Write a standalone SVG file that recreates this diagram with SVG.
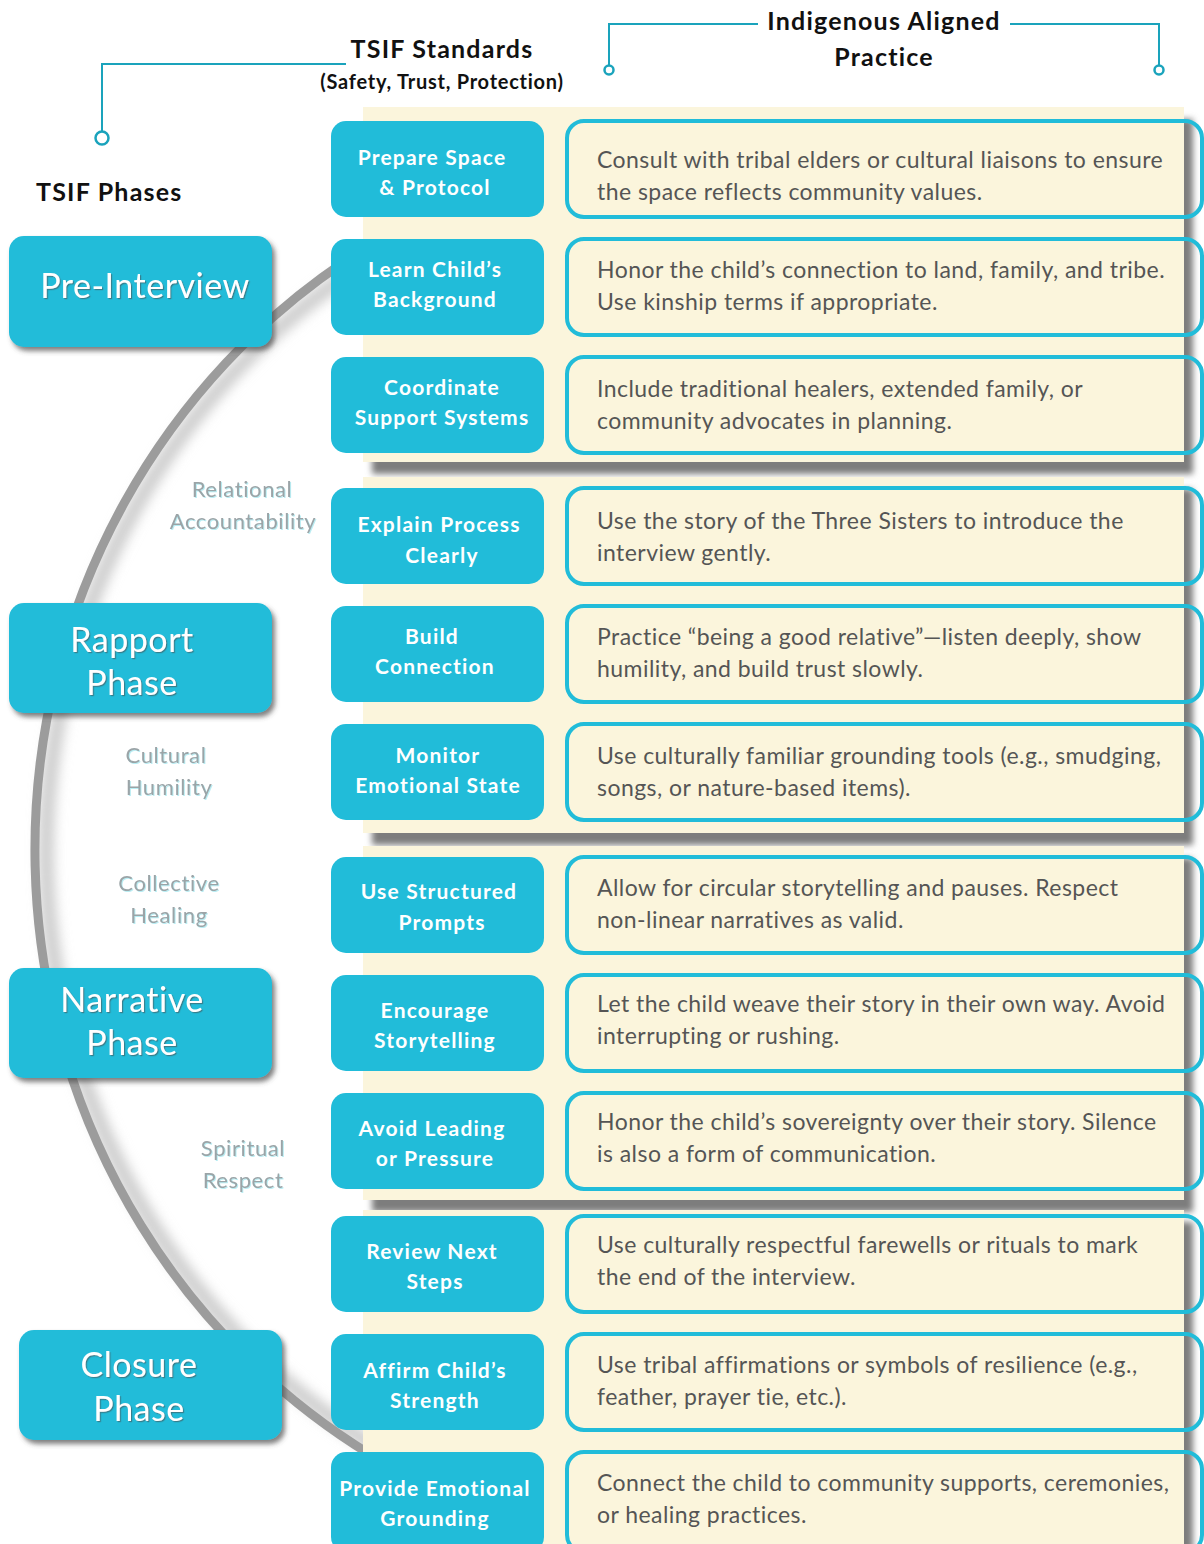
<svg xmlns="http://www.w3.org/2000/svg" width="1204" height="1544" viewBox="0 0 1204 1544">
  <style>
    .hdr { font-family: Lato, "Liberation Sans", sans-serif; font-weight: 700; fill: #111; }
    .lead { fill: none; stroke: #1aa3bc; stroke-width: 2; }
    .dot { fill: #fff; stroke: #1aa3bc; stroke-width: 2.5; }
    .panel { fill: #fbf5dc; }
    .std { fill: #21bcd9; }
    .prac { fill: none; stroke: #21bcd9; stroke-width: 4; }
    .stdtxt { font-family: Lato, "Liberation Sans", sans-serif; font-weight: 700; font-size: 21px; letter-spacing: 1.2px; fill: #fff; text-anchor: middle; }
    .prtxt { font-family: Lato, "Liberation Sans", sans-serif; font-size: 23px; letter-spacing: 0.45px; fill: #555; }
    .phase { fill: #21bcd9; }
    .phtxt { font-family: Lato, "Liberation Sans", sans-serif; font-weight: 400; font-size: 34px; letter-spacing: 0.5px; fill: #fff; text-anchor: middle; }
    .side { font-family: Lato, "Liberation Sans", sans-serif; font-size: 22px; letter-spacing: 0.6px; fill: #9ba4a7; text-anchor: middle; }
  </style>
  <defs>
    <filter id="panelShadow" x="-5%" y="-5%" width="115%" height="115%">
      <feGaussianBlur in="SourceAlpha" stdDeviation="3"/>
      <feOffset dx="9" dy="12" result="b"/>
      <feFlood flood-color="#7d7d7d"/>
      <feComposite in2="b" operator="in"/>
      <feMerge><feMergeNode/><feMergeNode in="SourceGraphic"/></feMerge>
    </filter>
    <filter id="boxShadow" x="-10%" y="-10%" width="125%" height="130%">
      <feGaussianBlur in="SourceAlpha" stdDeviation="2.5"/>
      <feOffset dx="3" dy="4" result="b"/>
      <feFlood flood-color="#4a4a4a" flood-opacity="0.7"/>
      <feComposite in2="b" operator="in"/>
      <feMerge><feMergeNode/><feMergeNode in="SourceGraphic"/></feMerge>
    </filter>
    <filter id="titleShadow" x="-5%" y="-20%" width="110%" height="140%">
      <feDropShadow dx="1.2" dy="1.2" stdDeviation="0.4" flood-color="#3b6f7a" flood-opacity="0.8"/>
    </filter>
    <filter id="sideShadow" x="-5%" y="-20%" width="110%" height="140%">
      <feDropShadow dx="1" dy="1" stdDeviation="0.3" flood-color="#a8e8f0" flood-opacity="0.8"/>
    </filter>
    <filter id="arcGlow" x="-20%" y="-10%" width="140%" height="120%">
      <feGaussianBlur stdDeviation="6"/>
    </filter>
  </defs>

  <!-- Column headings and their leader lines -->
  <g id="headings">
    <polyline class="lead" points="346,64 102,64 102,131"/>
    <circle class="dot" cx="102" cy="138" r="6.5"/>
    <text class="hdr" x="442" y="58" font-size="25" letter-spacing="1.2" text-anchor="middle">TSIF Standards</text>
    <text class="hdr" x="442" y="89" font-size="20" letter-spacing="0.75" text-anchor="middle">(Safety, Trust, Protection)</text>
    <text class="hdr" x="36" y="201" font-size="25" letter-spacing="1.2">TSIF Phases</text>
    <polyline class="lead" points="758,24 609,24 609,65"/>
    <circle class="dot" cx="609" cy="70" r="4.5"/>
    <polyline class="lead" points="1010,24 1159,24 1159,65"/>
    <circle class="dot" cx="1159" cy="70" r="4.5"/>
    <text class="hdr" x="884" y="30" font-size="25" letter-spacing="1.2" text-anchor="middle">Indigenous Aligned</text>
    <text class="hdr" x="884" y="66" font-size="25" letter-spacing="1.2" text-anchor="middle">Practice</text>
  </g>

  <!-- Curved phase track -->
  <g id="connectors">
    <path d="M 354 270 A 680 695 0 0 0 380 1450" fill="none" stroke="#cfcfcf" stroke-width="16" filter="url(#arcGlow)"/>
    <path d="M 344 262 A 690 705 0 0 0 371 1455" fill="none" stroke="#9c9c9c" stroke-width="9"/>
  </g>

  <!-- Cream background bands -->
  <g id="panels">
    <rect class="panel" x="363" y="107" width="821" height="355" filter="url(#panelShadow)"/>
    <rect class="panel" x="363" y="477" width="821" height="356" filter="url(#panelShadow)"/>
    <rect class="panel" x="363" y="846" width="821" height="354" filter="url(#panelShadow)"/>
    <rect class="panel" x="363" y="1210" width="821" height="360" filter="url(#panelShadow)"/>
  </g>

  <!-- Phase labels along the track -->
  <g id="phase-labels">
    <text class="side" filter="url(#sideShadow)"><tspan x="242" y="497">Relational</tspan><tspan x="243" y="529">Accountability</tspan></text>
    <text class="side" filter="url(#sideShadow)"><tspan x="166" y="763">Cultural</tspan><tspan x="169" y="795">Humility</tspan></text>
    <text class="side" filter="url(#sideShadow)"><tspan x="169" y="891">Collective</tspan><tspan x="169" y="923">Healing</tspan></text>
    <text class="side" filter="url(#sideShadow)"><tspan x="243" y="1156">Spiritual</tspan><tspan x="243" y="1188">Respect</tspan></text>
  </g>

  <!-- Phases -->
  <g id="phase-pre-interview">
    <rect class="phase" x="9" y="236" width="263" height="111" rx="15" filter="url(#boxShadow)"/>
    <text class="phtxt" x="145" y="298" filter="url(#titleShadow)">Pre-Interview</text>
  </g>
  <g id="phase-rapport">
    <rect class="phase" x="9" y="603" width="263" height="110" rx="15" filter="url(#boxShadow)"/>
    <text class="phtxt" filter="url(#titleShadow)"><tspan x="132" y="652">Rapport</tspan><tspan x="132" y="695">Phase</tspan></text>
  </g>
  <g id="phase-narrative">
    <rect class="phase" x="9" y="968" width="263" height="110" rx="15" filter="url(#boxShadow)"/>
    <text class="phtxt" filter="url(#titleShadow)"><tspan x="132" y="1012">Narrative</tspan><tspan x="132" y="1055">Phase</tspan></text>
  </g>
  <g id="phase-closure">
    <rect class="phase" x="19" y="1330" width="263" height="110" rx="15" filter="url(#boxShadow)"/>
    <text class="phtxt" filter="url(#titleShadow)"><tspan x="139" y="1377">Closure</tspan><tspan x="139" y="1421">Phase</tspan></text>
  </g>

  <!-- Standards -->
  <g id="std-prepare-space">
    <rect class="std" x="331" y="121" width="213" height="96" rx="15"/>
    <text class="stdtxt"><tspan x="432" y="165">Prepare Space</tspan><tspan x="435" y="195">&amp; Protocol</tspan></text>
  </g>
  <g id="std-learn-background">
    <rect class="std" x="331" y="239" width="213" height="96" rx="15"/>
    <text class="stdtxt"><tspan x="435" y="277">Learn Child’s</tspan><tspan x="435" y="307">Background</tspan></text>
  </g>
  <g id="std-coordinate-support">
    <rect class="std" x="331" y="357" width="213" height="96" rx="15"/>
    <text class="stdtxt"><tspan x="442" y="395">Coordinate</tspan><tspan x="442" y="425">Support Systems</tspan></text>
  </g>
  <g id="std-explain-process">
    <rect class="std" x="331" y="488" width="213" height="96" rx="15"/>
    <text class="stdtxt"><tspan x="439" y="532">Explain Process</tspan><tspan x="442" y="563">Clearly</tspan></text>
  </g>
  <g id="std-build-connection">
    <rect class="std" x="331" y="606" width="213" height="96" rx="15"/>
    <text class="stdtxt"><tspan x="432" y="644">Build</tspan><tspan x="435" y="674">Connection</tspan></text>
  </g>
  <g id="std-monitor-emotional">
    <rect class="std" x="331" y="724" width="213" height="96" rx="15"/>
    <text class="stdtxt"><tspan x="438" y="763">Monitor</tspan><tspan x="438" y="793">Emotional State</tspan></text>
  </g>
  <g id="std-structured-prompts">
    <rect class="std" x="331" y="857" width="213" height="96" rx="15"/>
    <text class="stdtxt"><tspan x="439" y="899">Use Structured</tspan><tspan x="442" y="930">Prompts</tspan></text>
  </g>
  <g id="std-encourage-storytelling">
    <rect class="std" x="331" y="975" width="213" height="96" rx="15"/>
    <text class="stdtxt"><tspan x="435" y="1018">Encourage</tspan><tspan x="435" y="1048">Storytelling</tspan></text>
  </g>
  <g id="std-avoid-leading">
    <rect class="std" x="331" y="1093" width="213" height="96" rx="15"/>
    <text class="stdtxt"><tspan x="432" y="1136">Avoid Leading</tspan><tspan x="435" y="1166">or Pressure</tspan></text>
  </g>
  <g id="std-review-steps">
    <rect class="std" x="331" y="1216" width="213" height="96" rx="15"/>
    <text class="stdtxt"><tspan x="432" y="1259">Review Next</tspan><tspan x="435" y="1289">Steps</tspan></text>
  </g>
  <g id="std-affirm-strength">
    <rect class="std" x="331" y="1334" width="213" height="96" rx="15"/>
    <text class="stdtxt"><tspan x="435" y="1378">Affirm Child’s</tspan><tspan x="435" y="1408">Strength</tspan></text>
  </g>
  <g id="std-emotional-grounding">
    <rect class="std" x="331" y="1452" width="213" height="100" rx="15"/>
    <text class="stdtxt"><tspan x="435" y="1496">Provide Emotional</tspan><tspan x="435" y="1526">Grounding</tspan></text>
  </g>

  <!-- Aligned practices -->
  <g id="practice-1">
    <rect class="prac" x="567" y="121" width="635" height="96" rx="17"/>
    <text class="prtxt"><tspan x="597" y="168">Consult with tribal elders or cultural liaisons to ensure</tspan><tspan x="597" y="200">the space reflects community values.</tspan></text>
  </g>
  <g id="practice-2">
    <rect class="prac" x="567" y="239" width="635" height="96" rx="17"/>
    <text class="prtxt"><tspan x="597" y="278">Honor the child’s connection to land, family, and tribe.</tspan><tspan x="597" y="310">Use kinship terms if appropriate.</tspan></text>
  </g>
  <g id="practice-3">
    <rect class="prac" x="567" y="357" width="635" height="96" rx="17"/>
    <text class="prtxt"><tspan x="597" y="397">Include traditional healers, extended family, or</tspan><tspan x="597" y="429">community advocates in planning.</tspan></text>
  </g>
  <g id="practice-4">
    <rect class="prac" x="567" y="488" width="635" height="96" rx="17"/>
    <text class="prtxt"><tspan x="597" y="529">Use the story of the Three Sisters to introduce the</tspan><tspan x="597" y="561">interview gently.</tspan></text>
  </g>
  <g id="practice-5">
    <rect class="prac" x="567" y="606" width="635" height="96" rx="17"/>
    <text class="prtxt"><tspan x="597" y="645">Practice “being a good relative”—listen deeply, show</tspan><tspan x="597" y="677">humility, and build trust slowly.</tspan></text>
  </g>
  <g id="practice-6">
    <rect class="prac" x="567" y="724" width="635" height="96" rx="17"/>
    <text class="prtxt"><tspan x="597" y="764">Use culturally familiar grounding tools (e.g., smudging,</tspan><tspan x="597" y="796">songs, or nature-based items).</tspan></text>
  </g>
  <g id="practice-7">
    <rect class="prac" x="567" y="857" width="635" height="96" rx="17"/>
    <text class="prtxt"><tspan x="597" y="896">Allow for circular storytelling and pauses. Respect</tspan><tspan x="597" y="928">non-linear narratives as valid.</tspan></text>
  </g>
  <g id="practice-8">
    <rect class="prac" x="567" y="975" width="635" height="96" rx="17"/>
    <text class="prtxt"><tspan x="597" y="1012">Let the child weave their story in their own way. Avoid</tspan><tspan x="597" y="1044">interrupting or rushing.</tspan></text>
  </g>
  <g id="practice-9">
    <rect class="prac" x="567" y="1093" width="635" height="96" rx="17"/>
    <text class="prtxt"><tspan x="597" y="1130">Honor the child’s sovereignty over their story. Silence</tspan><tspan x="597" y="1162">is also a form of communication.</tspan></text>
  </g>
  <g id="practice-10">
    <rect class="prac" x="567" y="1216" width="635" height="96" rx="17"/>
    <text class="prtxt"><tspan x="597" y="1253">Use culturally respectful farewells or rituals to mark</tspan><tspan x="597" y="1285">the end of the interview.</tspan></text>
  </g>
  <g id="practice-11">
    <rect class="prac" x="567" y="1334" width="635" height="96" rx="17"/>
    <text class="prtxt"><tspan x="597" y="1373">Use tribal affirmations or symbols of resilience (e.g.,</tspan><tspan x="597" y="1405">feather, prayer tie, etc.).</tspan></text>
  </g>
  <g id="practice-12">
    <rect class="prac" x="567" y="1452" width="635" height="100" rx="17"/>
    <text class="prtxt"><tspan x="597" y="1491">Connect the child to community supports, ceremonies,</tspan><tspan x="597" y="1523">or healing practices.</tspan></text>
  </g>
</svg>
